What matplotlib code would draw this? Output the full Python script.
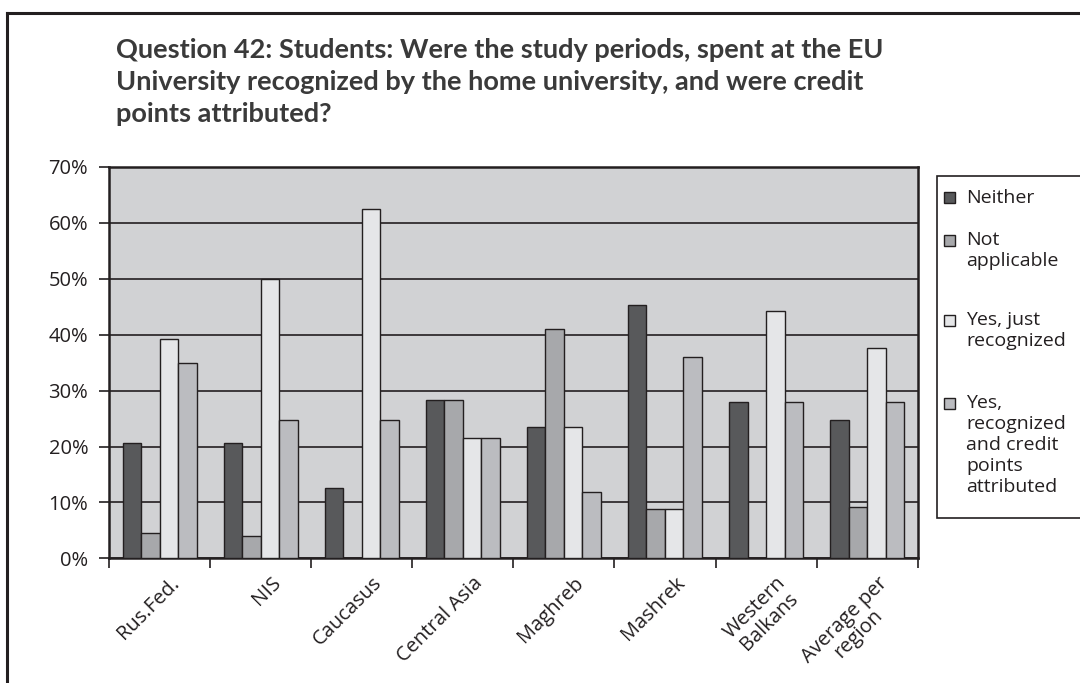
import matplotlib
matplotlib.use("Agg")
import matplotlib.pyplot as plt
import matplotlib.transforms as mtransforms
import numpy as np
from matplotlib.patches import Rectangle

categories = ["Rus.Fed.", "NIS", "Caucasus", "Central Asia", "Maghreb", "Mashrek",
              "Western\nBalkans", "Average per\nregion"]
series_names = ["Neither", "Not\napplicable", "Yes, just\nrecognized",
                "Yes,\nrecognized\nand credit\npoints\nattributed"]
neither = [20.6, 20.6, 12.5, 28.4, 23.5, 45.4, 28.0, 24.7]
not_applicable = [4.5, 4.0, 0.0, 28.4, 41.0, 8.8, 0.0, 9.2]
yes_just = [39.3, 50.0, 62.5, 21.5, 23.5, 8.8, 44.2, 37.6]
yes_credit = [34.9, 24.8, 24.8, 21.5, 11.8, 36.0, 28.0, 28.0]
yticks = [0, 10, 20, 30, 40, 50, 60, 70]

colors = ["#58595b", "#a7a8ab", "#e5e6e8", "#bbbcc0"]
edge = "#231f20"
font = "Open Sans"

W, H = 1080, 683
fig = plt.figure(figsize=(W / 100, H / 100), dpi=100)
fig.patch.set_facecolor("white")

def fx(px):
    return px / W

def fy(py):
    return 1 - py / H

ax = fig.add_axes([fx(109), fy(558.3), fx(917.7) - fx(109), fy(167) - fy(558.3)])
ax.set_facecolor("#d1d2d4")

x = np.arange(len(categories))
bw = 0.183
data = [neither, not_applicable, yes_just, yes_credit]
for i, (vals, c) in enumerate(zip(data, colors)):
    ax.bar(x + (i - 1.5) * bw, vals, width=bw, color=c, edgecolor=edge,
           linewidth=1.0, zorder=3)

ax.set_xlim(-0.5, len(categories) - 0.5)
ax.set_ylim(0, 70)
ax.set_yticks(yticks)
ax.set_yticklabels([f"{v}%" for v in yticks], fontsize=14.5, family=font, color="#231f20")
ax.yaxis.grid(True, color=edge, linewidth=1.2, zorder=1)
ax.set_axisbelow(True)
ax.tick_params(axis="y", direction="out", length=7, width=1.2, color=edge, pad=8)

ax.set_xticks(np.arange(len(categories) + 1) - 0.5, minor=False)
ax.set_xticklabels([])
ax.tick_params(axis="x", direction="out", length=7, width=1.2, color=edge)
ax.set_xticks(x, minor=True)
ax.tick_params(axis="x", which="minor", length=0)
ax.set_xticklabels(categories, minor=True, rotation=45, ha="right",
                   rotation_mode="anchor", fontsize=14.5, family=font,
                   color="#231f20", multialignment="center", linespacing=0.95)
offset = mtransforms.ScaledTranslation(10 / 100, -10 / 100, fig.dpi_scale_trans)
for lab in ax.xaxis.get_minorticklabels():
    lab.set_transform(lab.get_transform() + offset)

for s in ax.spines.values():
    s.set_color(edge)
    s.set_linewidth(1.8)

# Title
title_lines = ["Question 42: Students: Were the study periods, spent at the EU",
               "University recognized by the home university, and were credit",
               "points attributed?"]
fig.text(fx(116), fy(82), "\n".join(title_lines), fontsize=19.5, fontweight="bold",
         family="Lato", color="#3a3a3a", ha="left", va="center", linespacing=1.38)

# Outer frame (left and top)
fig.add_artist(plt.Line2D([fx(7), fx(7)], [fy(12.5), 0], color=edge, linewidth=2.2))
fig.add_artist(plt.Line2D([fx(7), 1.0], [fy(12.5), fy(12.5)], color=edge, linewidth=2.2))

# Legend box
fig.add_artist(Rectangle((fx(936.7), fy(517.7)), fx(1100) - fx(936.7), fy(176) - fy(517.7),
                         transform=fig.transFigure, facecolor="white", edgecolor=edge,
                         linewidth=1.2, clip_on=False))
leg_tops = [198, 240, 320, 403]
line_h = 21
for name, c, top in zip(series_names, colors, leg_tops):
    fig.add_artist(Rectangle((fx(944), fy(top + 5.5)), fx(11), fy(0) - fy(11),
                             transform=fig.transFigure, facecolor=c, edgecolor=edge,
                             linewidth=1.0))
    for k, ln in enumerate(name.split("\n")):
        fig.text(fx(966), fy(top + k * line_h), ln, fontsize=14, family=font,
                 color="#231f20", ha="left", va="center")

fig.savefig("out.png", dpi=100)
